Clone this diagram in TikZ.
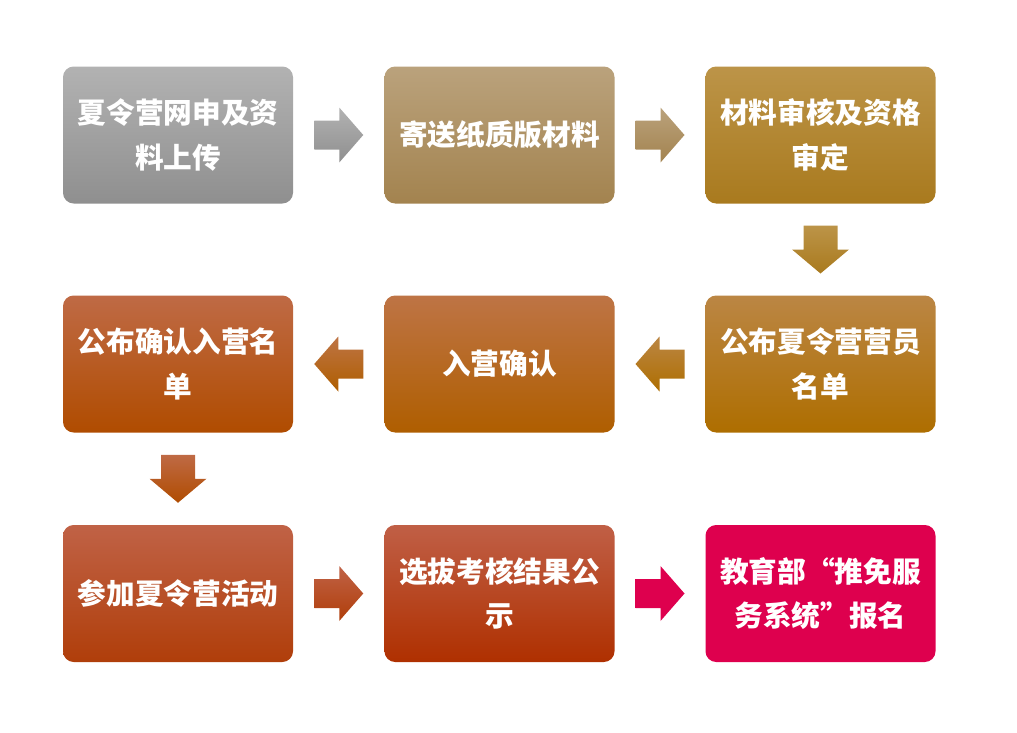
\documentclass[tikz,border=0pt]{standalone}
\usepackage{fontspec}
\newfontfamily\cjk{Noto Sans CJK SC}
\usetikzlibrary{calc}
\definecolor{gAt}{HTML}{B2B2B2}\definecolor{gAb}{HTML}{8F8F8F}
\definecolor{gBt}{HTML}{BAA27C}\definecolor{gBb}{HTML}{A3834F}
\definecolor{gCt}{HTML}{BC9448}\definecolor{gCb}{HTML}{A97A1E}
\definecolor{gDt}{HTML}{BB8644}\definecolor{gDb}{HTML}{AE6E00}
\definecolor{gEt}{HTML}{BE7445}\definecolor{gEb}{HTML}{AF5E00}
\definecolor{gFt}{HTML}{BF6A45}\definecolor{gFb}{HTML}{B04C00}
\definecolor{gGt}{HTML}{C06246}\definecolor{gGb}{HTML}{B03E0A}
\definecolor{gHt}{HTML}{C05F46}\definecolor{gHb}{HTML}{AF3000}
\definecolor{gI}{HTML}{DE004E}
\tikzset{
  stage/.style={minimum width=230*0.75pt, minimum height=137*0.75pt, rounded corners=8pt,
    align=center, text=white, inner sep=0pt,
    font=\cjk\bfseries\fontsize{21.5}{33.5}\selectfont},
  rarr/.pic={\shade[pic actions] (-24.5,-14.5) -- (0.5,-14.5) -- (0.5,-27.5) -- (24.5,0)
    -- (0.5,27.5) -- (0.5,14.5) -- (-24.5,14.5) -- cycle;},
  larr/.pic={\shade[pic actions] (24.5,-14.5) -- (-0.5,-14.5) -- (-0.5,-27.5) -- (-24.5,0)
    -- (-0.5,27.5) -- (-0.5,14.5) -- (24.5,14.5) -- cycle;},
  darr/.pic={\shade[pic actions] (-17,-24) -- (-17,0) -- (-28.5,0) -- (0,24)
    -- (28.5,0) -- (17,0) -- (17,-24) -- cycle;}
}
\begin{document}
\begin{tikzpicture}[x=0.75pt, y=-0.75pt]
\useasboundingbox (0,0) rectangle (1017,732);
% stages
\node[stage, top color=gAt, bottom color=gAb] (b1) at (178,135) {夏令营网申及资\\料上传};
\node[stage, top color=gBt, bottom color=gBb] (b2) at (499.5,135) {寄送纸质版材料};
\node[stage, top color=gCt, bottom color=gCb] (b3) at (820.5,135) {材料审核及资格\\审定};
\node[stage, top color=gDt, bottom color=gDb] (b4) at (820.5,364) {公布夏令营营员\\名单};
\node[stage, top color=gEt, bottom color=gEb] (b5) at (499.5,364) {入营确认};
\node[stage, top color=gFt, bottom color=gFb] (b6) at (178,364) {公布确认入营名\\单};
\node[stage, top color=gGt, bottom color=gGb] (b7) at (178,593.5) {参加夏令营活动};
\node[stage, top color=gHt, bottom color=gHb] (b8) at (499.5,593.5) {选拔考核结果公\\示};
\node[stage, fill=gI] (b9) at (820.5,593.5) {教育部“推免服\\务系统”报名};
% arrows
\pic[top color=gAt, bottom color=gAb] at ($(b1.east)!0.5!(b2.west)$) {rarr};
\pic[top color=gBt, bottom color=gBb] at ($(b2.east)!0.5!(b3.west)$) {rarr};
\pic[top color=gCt, bottom color=gCb] at ($(b3.south)!0.5!(b4.north)$) {darr};
\pic[top color=gDt, bottom color=gDb] at ($(b4.west)!0.5!(b5.east)$) {larr};
\pic[top color=gEt, bottom color=gEb] at ($(b5.west)!0.5!(b6.east)$) {larr};
\pic[top color=gFt, bottom color=gFb] at ($(b6.south)!0.5!(b7.north)$) {darr};
\pic[top color=gGt, bottom color=gGb] at ($(b7.east)!0.5!(b8.west)$) {rarr};
\pic[top color=gI, bottom color=gI] at ($(b8.east)!0.5!(b9.west)$) {rarr};
\end{tikzpicture}
\end{document}
